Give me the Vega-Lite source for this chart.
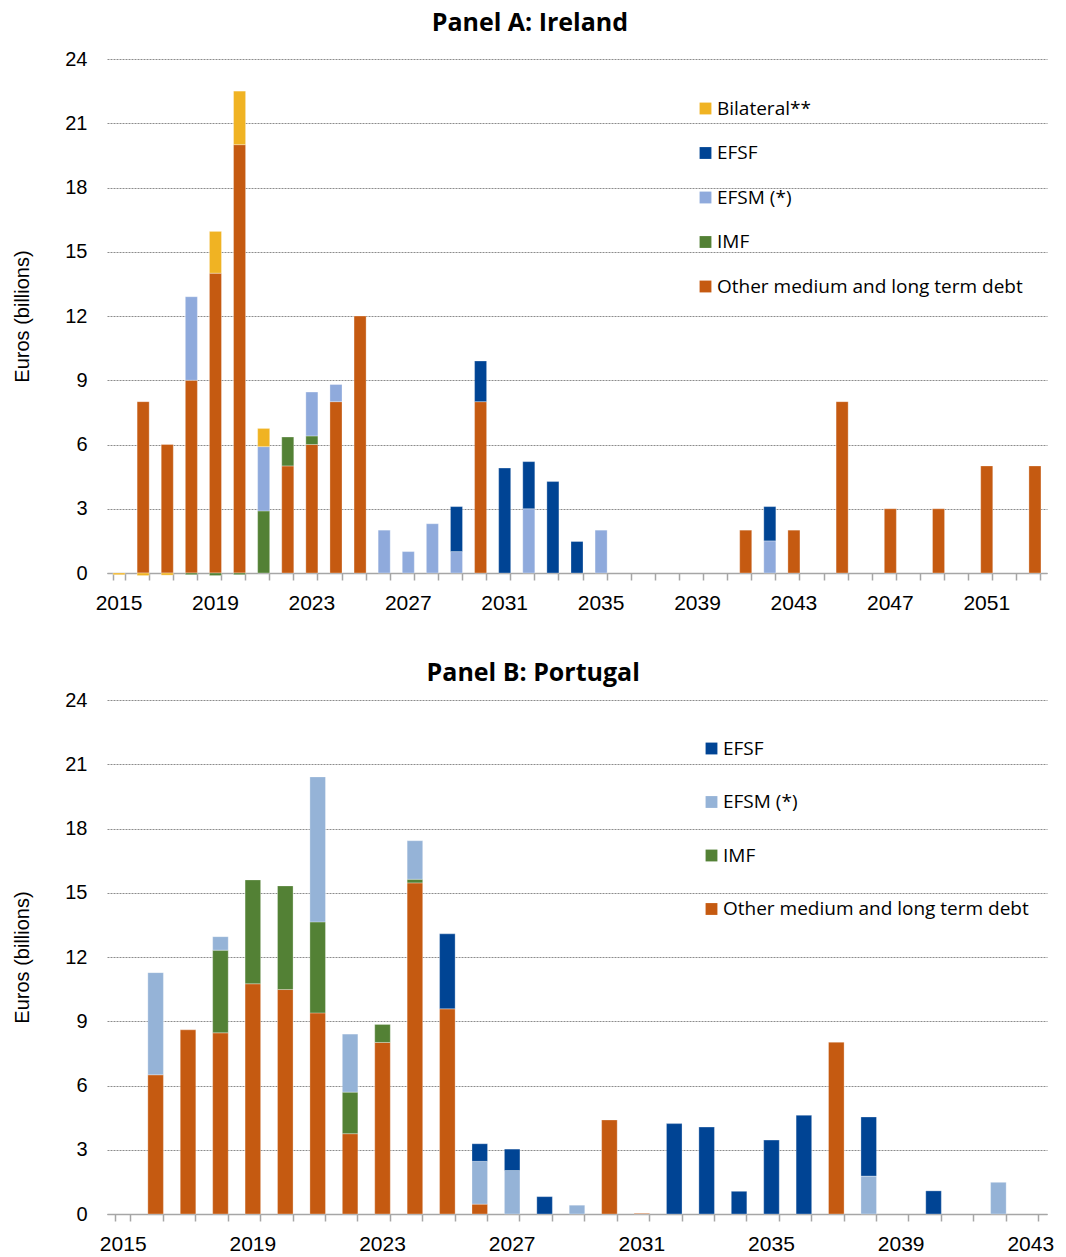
{
  "$schema": "https://vega.github.io/schema/vega-lite/v6.json",
  "padding": {"left": 12, "top": 11, "right": 5, "bottom": 2},
  "spacing": 48,
  "config": {
    "view": {"stroke": null},
    "axis": {"labelFont": "Liberation Sans", "labelFontSize": 20, "labelColor": "#000000", "titleFont": "Liberation Sans", "titleFontSize": 20, "titleFontWeight": "normal", "titleColor": "#000000"},
    "legend": {"labelFont": "Open Sans", "labelFontSize": 19, "labelColor": "#000000", "labelLimit": 500},
    "title": {"font": "Open Sans", "fontSize": 25, "fontWeight": "bold", "color": "#000000", "anchor": "middle", "frame": "bounds"}
  },
  "resolve": {"scale": {"color": "independent", "x": "independent", "y": "independent"}, "legend": {"color": "independent"}},
  "datasets": {
    "ireland": [
      {"year": 2015, "source": "Bilateral**", "value": -0.08},
      {"year": 2016, "source": "Other medium and long term debt", "value": 8},
      {"year": 2016, "source": "Bilateral**", "value": -0.12},
      {"year": 2017, "source": "Other medium and long term debt", "value": 6},
      {"year": 2017, "source": "Bilateral**", "value": -0.1},
      {"year": 2018, "source": "Other medium and long term debt", "value": 9},
      {"year": 2018, "source": "EFSM (*)", "value": 3.9},
      {"year": 2018, "source": "IMF", "value": -0.08},
      {"year": 2019, "source": "Other medium and long term debt", "value": 14},
      {"year": 2019, "source": "Bilateral**", "value": 1.95},
      {"year": 2019, "source": "IMF", "value": -0.12},
      {"year": 2020, "source": "Other medium and long term debt", "value": 20},
      {"year": 2020, "source": "Bilateral**", "value": 2.5},
      {"year": 2020, "source": "IMF", "value": -0.08},
      {"year": 2021, "source": "IMF", "value": 2.9},
      {"year": 2021, "source": "EFSM (*)", "value": 3.0},
      {"year": 2021, "source": "Bilateral**", "value": 0.85},
      {"year": 2022, "source": "Other medium and long term debt", "value": 5},
      {"year": 2022, "source": "IMF", "value": 1.35},
      {"year": 2023, "source": "Other medium and long term debt", "value": 6},
      {"year": 2023, "source": "IMF", "value": 0.4},
      {"year": 2023, "source": "EFSM (*)", "value": 2.05},
      {"year": 2024, "source": "Other medium and long term debt", "value": 8},
      {"year": 2024, "source": "EFSM (*)", "value": 0.8},
      {"year": 2025, "source": "Other medium and long term debt", "value": 12},
      {"year": 2026, "source": "EFSM (*)", "value": 2.0},
      {"year": 2027, "source": "EFSM (*)", "value": 1.0},
      {"year": 2028, "source": "EFSM (*)", "value": 2.3},
      {"year": 2029, "source": "EFSM (*)", "value": 1.0},
      {"year": 2029, "source": "EFSF", "value": 2.1},
      {"year": 2030, "source": "Other medium and long term debt", "value": 8},
      {"year": 2030, "source": "EFSF", "value": 1.9},
      {"year": 2031, "source": "EFSF", "value": 4.9},
      {"year": 2032, "source": "EFSM (*)", "value": 3.0},
      {"year": 2032, "source": "EFSF", "value": 2.2},
      {"year": 2033, "source": "EFSF", "value": 4.27},
      {"year": 2034, "source": "EFSF", "value": 1.47},
      {"year": 2035, "source": "EFSM (*)", "value": 2.0},
      {"year": 2041, "source": "Other medium and long term debt", "value": 2},
      {"year": 2042, "source": "EFSM (*)", "value": 1.5},
      {"year": 2042, "source": "EFSF", "value": 1.6},
      {"year": 2043, "source": "Other medium and long term debt", "value": 2},
      {"year": 2045, "source": "Other medium and long term debt", "value": 8},
      {"year": 2047, "source": "Other medium and long term debt", "value": 3},
      {"year": 2049, "source": "Other medium and long term debt", "value": 3},
      {"year": 2051, "source": "Other medium and long term debt", "value": 5},
      {"year": 2053, "source": "Other medium and long term debt", "value": 5}
    ],
    "portugal": [
      {"year": 2016, "source": "Other medium and long term debt", "value": 6.5},
      {"year": 2016, "source": "EFSM (*)", "value": 4.77},
      {"year": 2017, "source": "Other medium and long term debt", "value": 8.6},
      {"year": 2018, "source": "Other medium and long term debt", "value": 8.46},
      {"year": 2018, "source": "IMF", "value": 3.86},
      {"year": 2018, "source": "EFSM (*)", "value": 0.63},
      {"year": 2019, "source": "Other medium and long term debt", "value": 10.75},
      {"year": 2019, "source": "IMF", "value": 4.85},
      {"year": 2020, "source": "Other medium and long term debt", "value": 10.48},
      {"year": 2020, "source": "IMF", "value": 4.84},
      {"year": 2021, "source": "Other medium and long term debt", "value": 9.39},
      {"year": 2021, "source": "IMF", "value": 4.25},
      {"year": 2021, "source": "EFSM (*)", "value": 6.77},
      {"year": 2022, "source": "Other medium and long term debt", "value": 3.75},
      {"year": 2022, "source": "IMF", "value": 1.94},
      {"year": 2022, "source": "EFSM (*)", "value": 2.71},
      {"year": 2023, "source": "Other medium and long term debt", "value": 8.01},
      {"year": 2023, "source": "IMF", "value": 0.84},
      {"year": 2024, "source": "Other medium and long term debt", "value": 15.46},
      {"year": 2024, "source": "IMF", "value": 0.17},
      {"year": 2024, "source": "EFSM (*)", "value": 1.8},
      {"year": 2025, "source": "Other medium and long term debt", "value": 9.58},
      {"year": 2025, "source": "EFSF", "value": 3.5},
      {"year": 2026, "source": "Other medium and long term debt", "value": 0.46},
      {"year": 2026, "source": "EFSM (*)", "value": 2.0},
      {"year": 2026, "source": "EFSF", "value": 0.82},
      {"year": 2027, "source": "EFSM (*)", "value": 2.03},
      {"year": 2027, "source": "EFSF", "value": 1.0},
      {"year": 2028, "source": "EFSF", "value": 0.81},
      {"year": 2029, "source": "EFSM (*)", "value": 0.41},
      {"year": 2030, "source": "Other medium and long term debt", "value": 4.39},
      {"year": 2031, "source": "Other medium and long term debt", "value": 0.03},
      {"year": 2032, "source": "EFSF", "value": 4.22},
      {"year": 2033, "source": "EFSF", "value": 4.06},
      {"year": 2034, "source": "EFSF", "value": 1.06},
      {"year": 2035, "source": "EFSF", "value": 3.45},
      {"year": 2036, "source": "EFSF", "value": 4.61},
      {"year": 2037, "source": "Other medium and long term debt", "value": 8.02},
      {"year": 2038, "source": "EFSM (*)", "value": 1.77},
      {"year": 2038, "source": "EFSF", "value": 2.76},
      {"year": 2040, "source": "EFSF", "value": 1.08},
      {"year": 2042, "source": "EFSM (*)", "value": 1.48}
    ]
  },
  "vconcat": [
    {
      "title": {"text": "Panel A: Ireland", "offset": 13},
      "width": 940,
      "height": 514,
      "data": {"name": "ireland"},
      "mark": {"type": "bar", "stroke": "#ffffff", "strokeWidth": 0.6, "strokeOpacity": 0.5},
      "encoding": {
        "x": {
          "field": "year", "type": "ordinal",
          "scale": {"domain": [2015,2016,2017,2018,2019,2020,2021,2022,2023,2024,2025,2026,2027,2028,2029,2030,2031,2032,2033,2034,2035,2036,2037,2038,2039,2040,2041,2042,2043,2044,2045,2046,2047,2048,2049,2050,2051,2052,2053], "paddingInner": 0.5, "paddingOuter": 0.25},
          "axis": {"title": null, "labelAngle": 0, "labelFontSize": 21, "labelExpr": "(datum.value - 2015) % 4 == 0 ? datum.value : ''", "labelOverlap": false, "bandPosition": 1, "tickExtra": true, "tickColor": "#a6a6a6", "tickSize": 7, "tickWidth": 1.5, "domainColor": "#a6a6a6", "domainWidth": 1.5, "labelPadding": 12, "grid": false}
        },
        "y": {
          "field": "value", "type": "quantitative", "stack": "zero",
          "scale": {"domain": [0, 24], "nice": false},
          "axis": {"title": "Euros (billions)", "values": [0,3,6,9,12,15,18,21,24], "grid": true, "gridColor": "#8c8c8c", "gridDash": [2,1], "gridWidth": 1, "domain": false, "ticks": false, "labelPadding": 20, "titlePadding": 32}
        },
        "color": {
          "field": "source", "type": "nominal",
          "scale": {"domain": ["Bilateral**", "EFSF", "EFSM (*)", "IMF", "Other medium and long term debt"], "range": ["#F0B323", "#004494", "#8FAADC", "#538135", "#C55A11"]},
          "legend": {"title": null, "orient": "none", "legendX": 589, "legendY": 40, "symbolType": "square", "symbolSize": 140, "symbolStrokeWidth": 0, "rowPadding": 24.5, "labelOffset": 2}
        },
        "order": {"field": "source", "sort": "descending"}
      }
    },
    {
      "title": {"text": "Panel B: Portugal", "offset": 4},
      "width": 940,
      "height": 514,
      "data": {"name": "portugal"},
      "mark": {"type": "bar", "stroke": "#ffffff", "strokeWidth": 0.6, "strokeOpacity": 0.5},
      "encoding": {
        "x": {
          "field": "year", "type": "ordinal",
          "scale": {"domain": [2015,2016,2017,2018,2019,2020,2021,2022,2023,2024,2025,2026,2027,2028,2029,2030,2031,2032,2033,2034,2035,2036,2037,2038,2039,2040,2041,2042,2043], "paddingInner": 0.52, "paddingOuter": 0.26},
          "axis": {"title": null, "labelAngle": 0, "labelFontSize": 21, "labelExpr": "(datum.value - 2015) % 4 == 0 ? datum.value : ''", "labelOverlap": false, "bandPosition": 1, "tickExtra": true, "tickColor": "#a6a6a6", "tickSize": 7, "tickWidth": 1.5, "domainColor": "#a6a6a6", "domainWidth": 1.5, "labelPadding": 12, "grid": false}
        },
        "y": {
          "field": "value", "type": "quantitative", "stack": "zero",
          "scale": {"domain": [0, 24], "nice": false},
          "axis": {"title": "Euros (billions)", "values": [0,3,6,9,12,15,18,21,24], "grid": true, "gridColor": "#8c8c8c", "gridDash": [2,1], "gridWidth": 1, "domain": false, "ticks": false, "labelPadding": 20, "titlePadding": 32}
        },
        "color": {
          "field": "source", "type": "nominal",
          "scale": {"domain": ["EFSF", "EFSM (*)", "IMF", "Other medium and long term debt"], "range": ["#004494", "#95B3D7", "#538135", "#C55A11"]},
          "legend": {"title": null, "orient": "none", "legendX": 595, "legendY": 39, "symbolType": "square", "symbolSize": 140, "symbolStrokeWidth": 0, "rowPadding": 33.5, "labelOffset": 2}
        },
        "order": {"field": "source", "sort": "descending"}
      }
    }
  ]
}
